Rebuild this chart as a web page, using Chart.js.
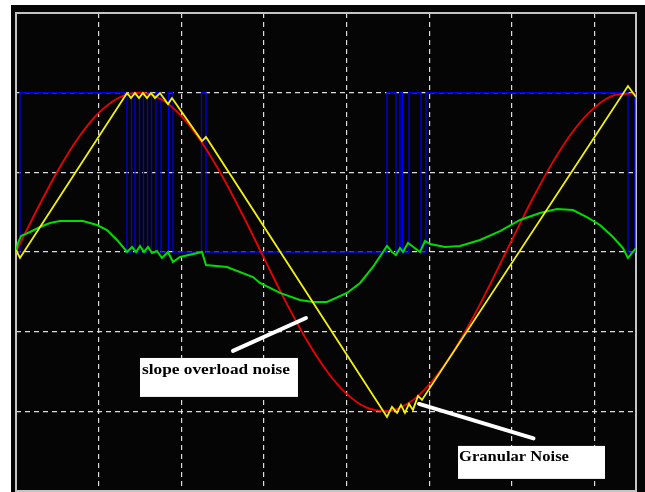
<!DOCTYPE html>
<html>
<head>
<meta charset="utf-8">
<script src="https://cdn.jsdelivr.net/npm/chart.js@4/dist/chart.umd.min.js"></script>
<style>
  html, body { margin: 0; padding: 0; background: #ffffff; }
  canvas { display: block; }
</style>
</head>
<body>
<canvas id="c" width="645" height="492"></canvas>
<script>
// ---- data (x in grid units, y in grid units) ----
const redX = [0,0.25,0.5,0.75,1,1.25,1.5,1.75,2,2.25,2.5,2.75,3,3.25,3.5,3.75,4,4.25,4.5,4.75,5,5.25,5.5,5.75,6,6.25,6.5,6.75,7,7.25,7.5];
const redY = [0,0.524,1.011,1.428,1.745,1.940,2.000,1.920,1.706,1.371,0.942,0.449,-0.077,-0.598,-1.077,-1.481,-1.781,-1.957,-1.997,-1.896,-1.663,-1.315,-0.876,-0.374,0.154,0.671,1.141,1.532,1.815,1.971,1.991];

const yellowX = [0,0.048,1.343,1.391,1.439,1.488,1.536,1.585,1.633,1.681,1.742,1.839,1.887,2.250,2.298,4.488,4.548,4.609,4.657,4.705,4.754,4.802,4.863,4.911,7.403,7.500];
const yellowY = [0.025,-0.075,1.995,1.932,1.995,1.932,1.995,1.932,1.995,1.932,1.995,1.857,1.932,1.393,1.443,-2.070,-1.945,-2.020,-1.920,-2.020,-1.907,-1.982,-1.807,-1.857,2.083,1.945];

const greenX = [0,0.024,0.060,0.169,0.290,0.411,0.532,0.810,0.980,1.101,1.222,1.343,1.403,1.452,1.500,1.548,1.597,1.645,1.705,1.766,1.839,1.899,1.984,2.250,2.298,2.552,2.867,2.951,3.193,3.435,3.593,3.762,4.004,4.162,4.318,4.488,4.548,4.596,4.645,4.681,4.742,4.887,4.948,5.008,5.190,5.371,5.613,5.855,6.097,6.338,6.544,6.737,6.906,7.064,7.221,7.342,7.403,7.500];
const greenY = [0,0.113,0.201,0.251,0.314,0.364,0.389,0.389,0.339,0.276,0.151,0,0.063,0,0.075,0,0.063,-0.013,0.013,-0.075,0,-0.125,-0.063,0,-0.163,-0.188,-0.314,-0.389,-0.514,-0.602,-0.627,-0.627,-0.514,-0.389,-0.188,0.075,0,-0.038,0.050,0,0.113,0,0.138,0.100,0.063,0.075,0.151,0.263,0.402,0.489,0.540,0.527,0.439,0.339,0.188,0.050,-0.075,0.050];

// blue binary output: x of each switching edge and the level from that edge onward
const blueEdges = [0,0.048,1.343,1.397,1.439,1.494,1.542,1.591,1.639,1.693,1.754,1.845,1.899,2.244,2.298,4.488,4.596,4.645,4.675,4.754,4.899,4.959,7.403,7.487,7.500];
const blueLevels = [0,2,0,2,0,2,0,2,0,2,0,2,0,2,0,2,0,2,0,2,0,2,0,2,2];

// axis grid (in grid units)
const xMin = 0, xMax = 7.5, yMin = -3, yMax = 3;

// annotation texts
const noteTexts = ['slope overload noise', 'Granular Noise'];

// ---- build ----
const pts = (xs, ys) => xs.map((x, i) => ({ x: x, y: ys[i] }));

const notes = [
  { text: noteTexts[0], box: [1.500, -1.330, 3.411, -1.819], tx: 1.524, tx2: 3.314, ty: -1.531, arrow: [2.625, -1.242, 3.508, -0.828] },
  { text: noteTexts[1], box: [5.347, -2.434, 7.125, -2.848], tx: 5.359, tx2: 6.689, ty: -2.622, arrow: [4.875, -1.907, 6.260, -2.340] }
];

const scopePlugin = {
  id: 'scope',
  beforeDraw(chart) {
    const { ctx, chartArea: a } = chart;
    ctx.save();
    ctx.fillStyle = '#ffffff';
    ctx.fillRect(0, 0, chart.width, chart.height);
    ctx.fillStyle = '#050505';
    ctx.fillRect(a.left - 5, a.top - 8, chart.width - (a.left - 5), chart.height - (a.top - 8));
    ctx.restore();
  },
  beforeDatasetsDraw(chart) {
    const { ctx, chartArea: a } = chart;
    ctx.save();
    ctx.strokeStyle = '#c4c4c4';
    ctx.lineWidth = 2;
    ctx.strokeRect(a.left, a.top, a.right - a.left, a.bottom - a.top);
    ctx.restore();
  },
  afterDatasetsDraw(chart) {
    const { ctx } = chart;
    const xs = chart.scales.x, ys = chart.scales.y;
    const X = v => xs.getPixelForValue(v), Y = v => ys.getPixelForValue(v);
    ctx.save();
    notes.forEach(n => {
      // arrow
      ctx.strokeStyle = '#ffffff';
      ctx.lineWidth = 4;
      ctx.lineCap = 'round';
      ctx.beginPath();
      ctx.moveTo(X(n.arrow[0]), Y(n.arrow[1]));
      ctx.lineTo(X(n.arrow[2]), Y(n.arrow[3]));
      ctx.stroke();
      // box
      ctx.fillStyle = '#ffffff';
      const bx = X(n.box[0]), by = Y(n.box[1]);
      ctx.fillRect(bx, by, X(n.box[2]) - bx, Y(n.box[3]) - by);
      // text
      ctx.fillStyle = '#000000';
      ctx.font = 'bold 14px "Liberation Serif", "DejaVu Serif", serif';
      ctx.textBaseline = 'alphabetic';
      const w = ctx.measureText(n.text).width;
      const target = X(n.tx2) - X(n.tx);
      ctx.save();
      ctx.translate(X(n.tx), Y(n.ty));
      ctx.scale(target / w, 1);
      ctx.fillText(n.text, 0, 0);
      ctx.restore();
    });
    ctx.restore();
  }
};

const axisCommon = {
  type: 'linear',
  ticks: { display: false, stepSize: 1 },
  grid: { color: '#dcdcdc', lineWidth: 1.2, drawTicks: false },
  border: { display: false, dash: [5, 4] }
};

new Chart(document.getElementById('c'), {
  type: 'scatter',
  data: {
    datasets: [
      { label: 'binary', data: pts(blueEdges, blueLevels), showLine: true, stepped: 'before',
        borderColor: '#0000ee', borderWidth: 1.3, pointRadius: 0, order: 4 },
      { label: 'message', data: pts(redX, redY), showLine: true, cubicInterpolationMode: 'monotone',
        borderColor: '#ee0000', borderWidth: 1.8, pointRadius: 0, order: 3 },
      { label: 'error', data: pts(greenX, greenY), showLine: true,
        borderColor: '#00dd00', borderWidth: 2, pointRadius: 0, order: 2 },
      { label: 'staircase', data: pts(yellowX, yellowY), showLine: true,
        borderColor: '#f4f400', borderWidth: 1.8, pointRadius: 0, order: 1 }
    ]
  },
  options: {
    responsive: false,
    animation: false,
    layout: { padding: { left: 16, top: 13, right: 9, bottom: 1 } },
    plugins: { legend: { display: false }, tooltip: { enabled: false } },
    scales: {
      x: Object.assign({}, axisCommon, { min: xMin, max: xMax }),
      y: Object.assign({}, axisCommon, { min: yMin, max: yMax })
    }
  },
  plugins: [scopePlugin]
});
</script>
</body>
</html>
